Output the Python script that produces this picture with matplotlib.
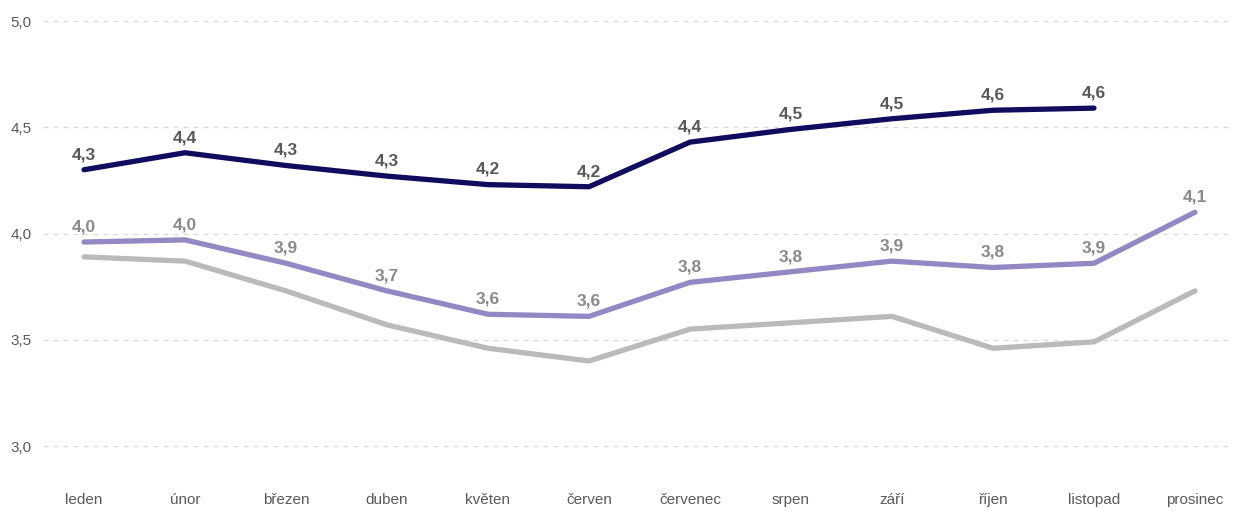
import matplotlib.pyplot as plt

plt.rcParams['font.family'] = ['Liberation Sans', 'DejaVu Sans']

mesice = ["leden", "únor", "březen", "duben", "květen", "červen",
          "červenec", "srpen", "září", "říjen", "listopad", "prosinec"]

rada_tmava = [4.30, 4.38, 4.32, 4.27, 4.23, 4.22, 4.43, 4.49, 4.54, 4.58, 4.59]
rada_fialova = [3.96, 3.97, 3.86, 3.73, 3.62, 3.61, 3.77, 3.82, 3.87, 3.84, 3.86, 4.10]
rada_seda = [3.89, 3.87, 3.73, 3.57, 3.46, 3.40, 3.55, 3.58, 3.61, 3.46, 3.49, 3.73]

fig = plt.figure(figsize=(12.33, 5.11), dpi=100)
# axes spans gridlines 3.0 (y=446px) to 5.0 (y=21px)
ax = fig.add_axes([43 / 1233, 1 - 446 / 511, 1190 / 1233, 425 / 511])
ax.set_xlim(-41 / 101, 11 + 38 / 101)
ax.set_ylim(3.0, 5.0)

for y in [3.0, 3.5, 4.0, 4.5, 5.0]:
    ax.axhline(y, color="#d9d9d9", lw=0.9, ls=(0, (4, 4)), zorder=0, clip_on=False)

x = list(range(len(mesice)))
ax.plot(x, rada_seda, color="#bababa", lw=3.8, solid_capstyle="round", clip_on=False)
ax.plot(x, rada_fialova, color="#9488c4", lw=3.8, solid_capstyle="round", clip_on=False)
ax.plot(x[:len(rada_tmava)], rada_tmava, color="#100c5e", lw=3.8,
        solid_capstyle="round", clip_on=False)

def popisky(hodnoty, barva):
    for i, v in enumerate(hodnoty):
        ax.annotate(f"{v:.1f}".replace(".", ","), (i, v), xytext=(0, 5.5),
                    textcoords="offset points", ha="center", va="bottom",
                    fontsize=12.5, fontweight="bold", color=barva)

popisky(rada_tmava, "#595959")
popisky(rada_fialova, "#8a8a8a")

ax.set_xticks(x)
ax.set_xticklabels(mesice)
ax.set_yticks([3.0, 3.5, 4.0, 4.5, 5.0])
ax.set_yticklabels(["3,0", "3,5", "4,0", "4,5", "5,0"])
ax.tick_params(axis="x", length=0, pad=34, labelsize=11, labelcolor="#595959")
ax.tick_params(axis="y", length=0, pad=8, labelsize=11, labelcolor="#595959")
for s in ax.spines.values():
    s.set_visible(False)

fig.savefig("out.png", dpi=100)
